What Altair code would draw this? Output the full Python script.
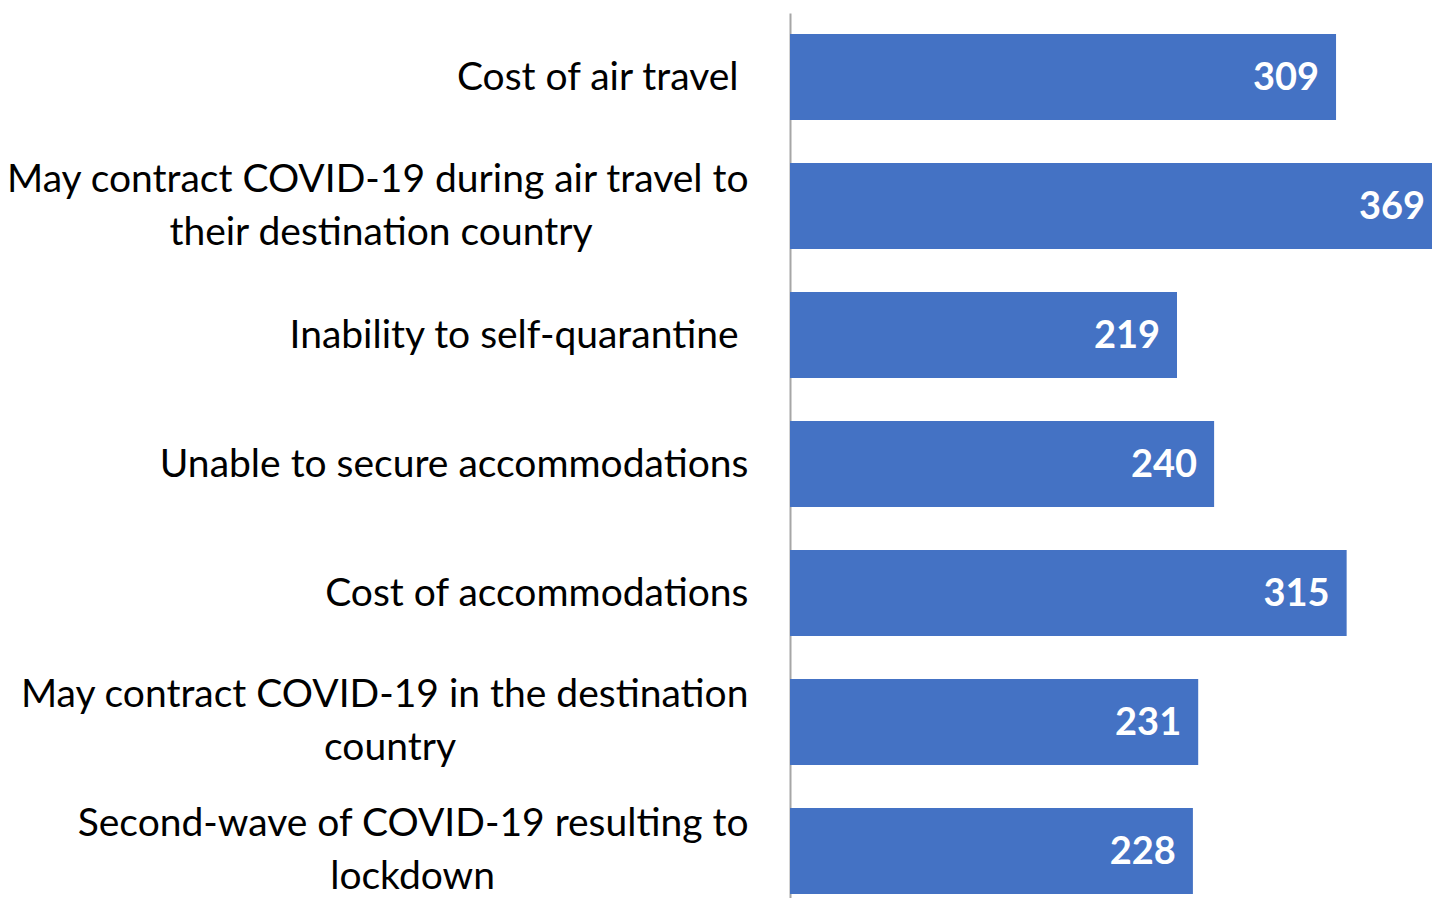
import altair as alt
import pandas as pd

categories = [
    "Cost of air travel ",
    "May contract COVID-19 during air travel to|their destination country",
    "Inability to self-quarantine ",
    "Unable to secure accommodations",
    "Cost of accommodations",
    "May contract COVID-19 in the destination|country",
    "Second-wave of COVID-19 resulting to|lockdown",
]
values = [309, 369, 219, 240, 315, 231, 228]

WJ = "\u2060"  # word joiner keeps trailing spaces from being dropped


def display_label(text):
    # Right-aligned axis labels: the second line is padded with en spaces so it
    # sits centred under the first line, as in the original.
    parts = text.split("|")
    if len(parts) == 1:
        if text.endswith(" "):
            return text.rstrip(" ") + "\u00a0" + WJ
        return text
    first, second = parts
    n = round((len(first) - len(second)) * 0.45)
    return first + "|" + second + "\u2002" * n + WJ


df = pd.DataFrame({"category": categories, "value": values})
df["label"] = [display_label(c) for c in categories]

FONT = "Lato"
BLUE = "#4472C4"
LINE_H = 53

base = alt.Chart(df).encode(
    y=alt.Y(
        "label:N",
        sort=list(df["label"]),
        title=None,
        scale=alt.Scale(paddingInner=0.333, paddingOuter=0.0969, align=0.84),
        axis=alt.Axis(
            labelExpr="split(datum.label, '|')",
            labelFont=FONT,
            labelFontSize=39,
            labelColor="#000000",
            labelLineHeight=LINE_H,
            labelOffset={
                "condition": {
                    "test": "indexof(datum.value, '|') >= 0",
                    "value": -LINE_H / 2,
                },
                "value": 1,
            },
            labelPadding=42,
            labelLimit=0,
            labelAlign="right",
            ticks=False,
            domainColor="#A6A6A6",
            domainWidth=2,
            grid=False,
        ),
    )
)

bars = base.mark_bar(color=BLUE, clip=True).encode(
    x=alt.X("value:Q", scale=alt.Scale(domain=[0, 363.3], nice=False), axis=None),
)

text = base.mark_text(
    align="right",
    baseline="middle",
    dx=-17,
    dy=2,
    color="white",
    font=FONT,
    fontSize=38,
    fontWeight="bold",
).encode(
    x=alt.X("value:Q"),
    text=alt.Text("value:Q"),
)

chart = (
    alt.layer(bars, text)
    .properties(
        width=642,
        height=885,
        autosize=alt.AutoSizeParams(type="none"),
        padding={"left": 782, "top": 5, "right": 0, "bottom": 0},
    )
    .configure_view(stroke=None)
)

chart.save("out.html", embed_options={"renderer": "svg", "actions": False})
